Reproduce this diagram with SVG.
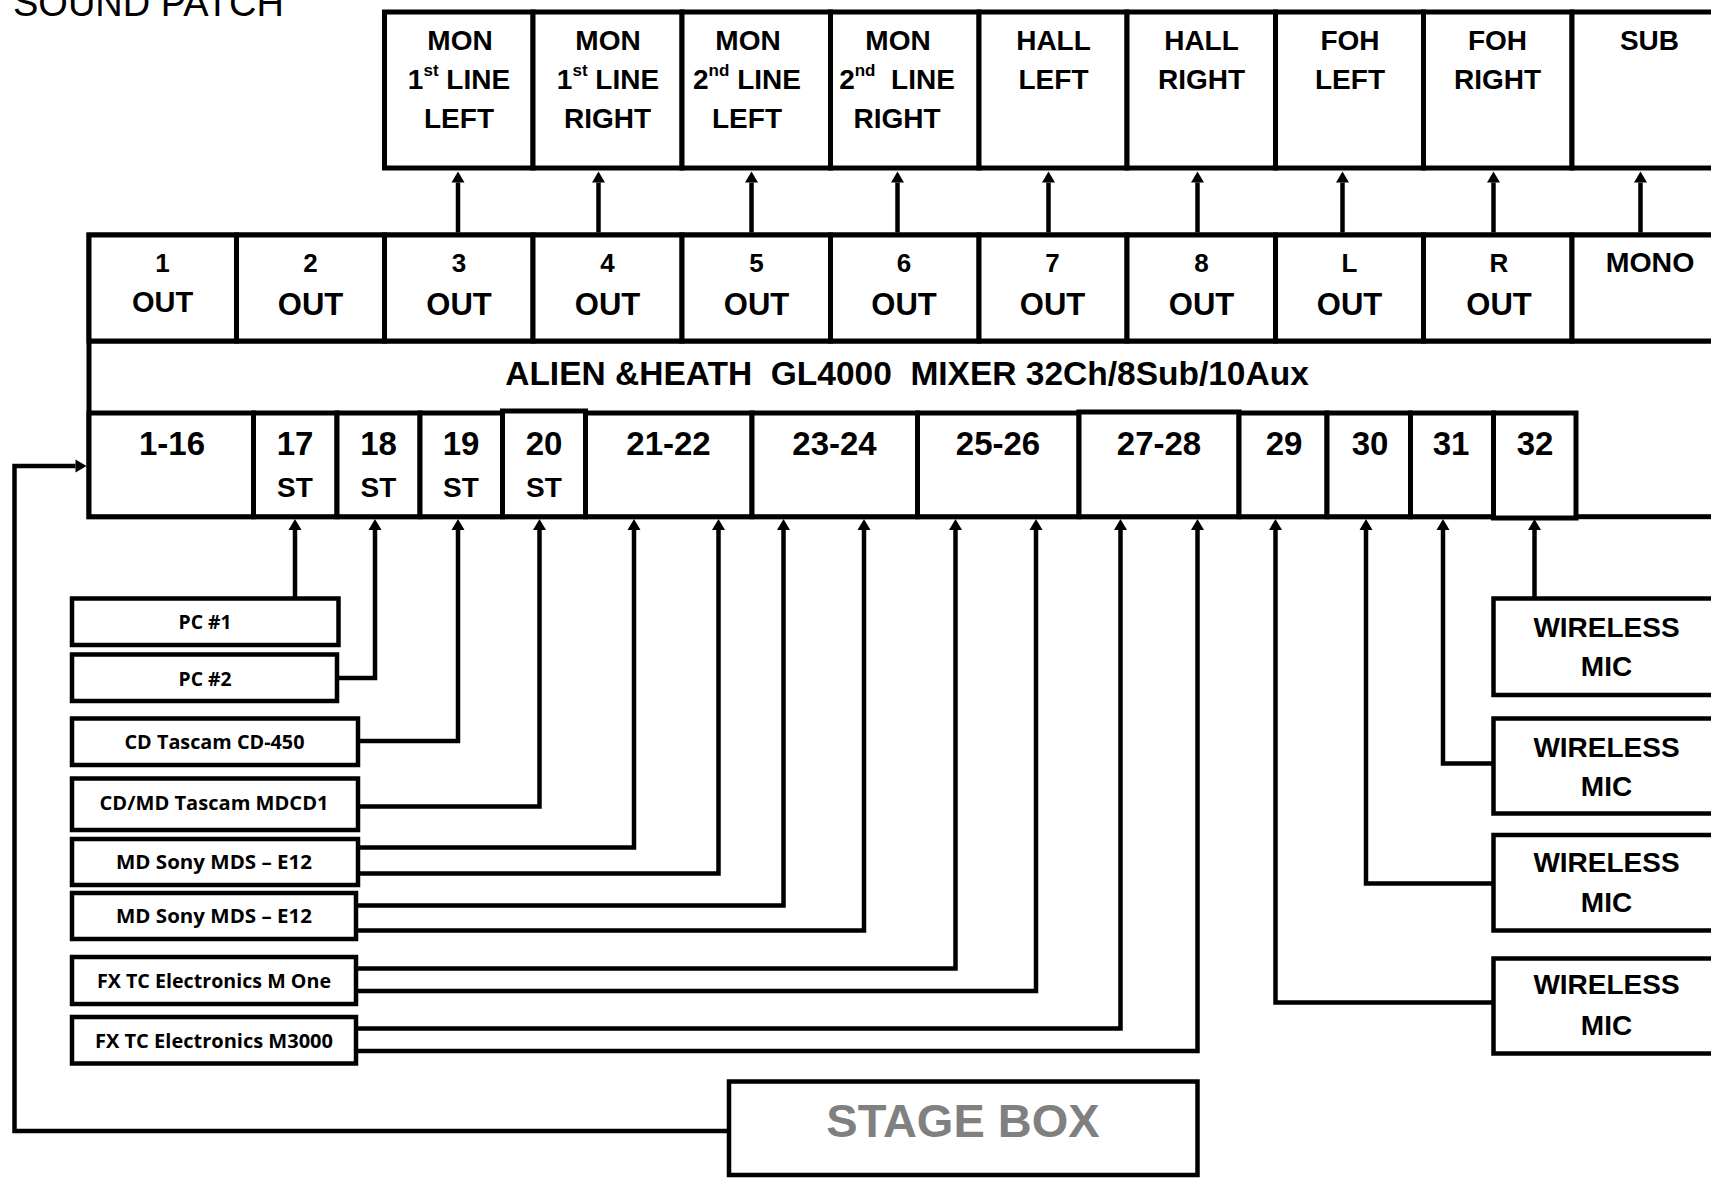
<svg xmlns="http://www.w3.org/2000/svg" width="1711" height="1179" viewBox="0 0 1711 1179">
<style>
  .box { fill: #fff; stroke: #000; stroke-width: 5; }
  .sbox { fill: #fff; stroke: #000; stroke-width: 4.5; }
  .t { font-family: "Liberation Sans", Arial, sans-serif; font-weight: 700; fill: #000; text-anchor: middle; }
  .tr { font-family: "Liberation Sans", Arial, sans-serif; font-weight: 400; fill: #000; }
  .top { font-size: 28px; }
  .num { font-size: 26px; }
  .out { font-size: 31px; }
  .inn { font-size: 33px; }
  .st { font-size: 28px; }
  .mic { font-size: 28px; }
  .src { font-family: "Open Sans", "Noto Sans", sans-serif; font-weight: 700; font-size: 19px; fill: #000; text-anchor: middle; }
  .sup { font-size: 17px; }
  .wire { fill: none; stroke: #000; stroke-width: 4.5; stroke-linejoin: miter; stroke-linecap: butt; }
</style>
<defs>
  <marker id="ah" viewBox="0 -6.5 11 13" refX="0" refY="0" markerWidth="11" markerHeight="13" markerUnits="userSpaceOnUse" orient="auto" overflow="visible">
    <path d="M0,-6.5 L11,0 L0,6.5 z" fill="#000"/>
  </marker>
</defs>
<rect x="0" y="0" width="1711" height="1179" fill="#fff"/>

<text class="tr" x="13" y="16" font-size="38">SOUND PATCH</text>

<!-- Destination boxes (top row) -->
<g id="dest-mon1l"><rect class="box" x="384.5" y="12" width="148.5" height="156"/>
  <text class="t top" x="460" y="50">MON</text>
  <text class="t top" x="459" y="89">1<tspan class="sup" dy="-13">st</tspan><tspan dy="13"> LINE</tspan></text>
  <text class="t top" x="459" y="128">LEFT</text></g>
<g id="dest-mon1r"><rect class="box" x="533" y="12" width="149" height="156"/>
  <text class="t top" x="608" y="50">MON</text>
  <text class="t top" x="608" y="89">1<tspan class="sup" dy="-13">st</tspan><tspan dy="13"> LINE</tspan></text>
  <text class="t top" x="607.5" y="128">RIGHT</text></g>
<g id="dest-mon2l"><rect class="box" x="682" y="12" width="148.5" height="156"/>
  <text class="t top" x="748" y="50">MON</text>
  <text class="t top" x="747" y="89">2<tspan class="sup" dy="-13">nd</tspan><tspan dy="13"> LINE</tspan></text>
  <text class="t top" x="747" y="128">LEFT</text></g>
<g id="dest-mon2r"><rect class="box" x="830.5" y="12" width="148.5" height="156"/>
  <text class="t top" x="898" y="50">MON</text>
  <text class="t top" x="897" y="89" xml:space="preserve">2<tspan class="sup" dy="-13">nd</tspan><tspan dy="13">  LINE</tspan></text>
  <text class="t top" x="897" y="128">RIGHT</text></g>
<g id="dest-halll"><rect class="box" x="979" y="12" width="148" height="156"/>
  <text class="t top" x="1053.5" y="50">HALL</text>
  <text class="t top" x="1053.5" y="89">LEFT</text></g>
<g id="dest-hallr"><rect class="box" x="1127" y="12" width="148.5" height="156"/>
  <text class="t top" x="1201.5" y="50">HALL</text>
  <text class="t top" x="1201.5" y="89">RIGHT</text></g>
<g id="dest-fohl"><rect class="box" x="1275.5" y="12" width="148" height="156"/>
  <text class="t top" x="1350" y="50">FOH</text>
  <text class="t top" x="1350" y="89">LEFT</text></g>
<g id="dest-fohr"><rect class="box" x="1423.5" y="12" width="148.5" height="156"/>
  <text class="t top" x="1497.5" y="50">FOH</text>
  <text class="t top" x="1497.5" y="89">RIGHT</text></g>
<g id="dest-sub"><rect class="box" x="1572" y="12" width="148.5" height="156"/>
  <text class="t top" x="1649.5" y="50">SUB</text></g>

<!-- Mixer -->
<g id="mixer">
  <rect class="box" x="89" y="235" width="1631" height="281.7"/>
  <line x1="89" y1="341" x2="1720" y2="341" stroke="#000" stroke-width="5"/>
  <text class="t" x="907" y="385" font-size="33.5" xml:space="preserve">ALIEN &amp;HEATH  GL4000  MIXER 32Ch/8Sub/10Aux</text>
</g>

<!-- Mixer outputs -->
<g id="out-1"><rect class="box" x="89" y="235" width="147.5" height="106"/>
  <text class="t num" x="162.5" y="272">1</text><text class="t" x="162.5" y="312" font-size="29">OUT</text></g>
<g id="out-2"><rect class="box" x="236.5" y="235" width="148" height="106"/>
  <text class="t num" x="310.5" y="272">2</text><text class="t out" x="310.5" y="315">OUT</text></g>
<g id="out-3"><rect class="box" x="384.5" y="235" width="148.5" height="106"/>
  <text class="t num" x="459" y="272">3</text><text class="t out" x="459" y="315">OUT</text></g>
<g id="out-4"><rect class="box" x="533" y="235" width="149" height="106"/>
  <text class="t num" x="607.5" y="272">4</text><text class="t out" x="607.5" y="315">OUT</text></g>
<g id="out-5"><rect class="box" x="682" y="235" width="148.5" height="106"/>
  <text class="t num" x="756.5" y="272">5</text><text class="t out" x="756.5" y="315">OUT</text></g>
<g id="out-6"><rect class="box" x="830.5" y="235" width="148.5" height="106"/>
  <text class="t num" x="904" y="272">6</text><text class="t out" x="904" y="315">OUT</text></g>
<g id="out-7"><rect class="box" x="979" y="235" width="148" height="106"/>
  <text class="t num" x="1052.5" y="272">7</text><text class="t out" x="1052.5" y="315">OUT</text></g>
<g id="out-8"><rect class="box" x="1127" y="235" width="148.5" height="106"/>
  <text class="t num" x="1201.5" y="272">8</text><text class="t out" x="1201.5" y="315">OUT</text></g>
<g id="out-l"><rect class="box" x="1275.5" y="235" width="148" height="106"/>
  <text class="t num" x="1349.5" y="272">L</text><text class="t out" x="1349.5" y="315">OUT</text></g>
<g id="out-r"><rect class="box" x="1423.5" y="235" width="148.5" height="106"/>
  <text class="t num" x="1499" y="272">R</text><text class="t out" x="1499" y="315">OUT</text></g>
<g id="out-mono"><rect class="box" x="1572" y="235" width="148.5" height="106"/>
  <text class="t" x="1650" y="272" font-size="28.5">MONO</text></g>

<!-- Mixer inputs -->
<g id="in-1-16"><rect class="box" x="89" y="413" width="164.5" height="103.7"/>
  <text class="t inn" x="172" y="455">1-16</text></g>
<g id="in-17"><rect class="box" x="253.5" y="413" width="83.5" height="103.7"/>
  <text class="t inn" x="295" y="455">17</text><text class="t st" x="295" y="497">ST</text></g>
<g id="in-18"><rect class="box" x="337" y="413" width="83" height="103.7"/>
  <text class="t inn" x="378.5" y="455">18</text><text class="t st" x="378.5" y="497">ST</text></g>
<g id="in-19"><rect class="box" x="420" y="413" width="82.5" height="103.7"/>
  <text class="t inn" x="461" y="455">19</text><text class="t st" x="461" y="497">ST</text></g>
<g id="in-20"><rect class="box" x="502.5" y="411" width="83" height="105.7"/>
  <text class="t inn" x="544" y="455">20</text><text class="t st" x="544" y="497">ST</text></g>
<g id="in-21-22"><rect class="box" x="585.5" y="413" width="166.5" height="103.7"/>
  <text class="t inn" x="668.5" y="455">21-22</text></g>
<g id="in-23-24"><rect class="box" x="752" y="413" width="165.5" height="103.7"/>
  <text class="t inn" x="834.5" y="455">23-24</text></g>
<g id="in-25-26"><rect class="box" x="917.5" y="413" width="161.5" height="103.7"/>
  <text class="t inn" x="998" y="455">25-26</text></g>
<g id="in-27-28"><rect class="box" x="1079" y="412" width="160" height="104.7"/>
  <text class="t inn" x="1159" y="455">27-28</text></g>
<g id="in-29"><rect class="box" x="1239" y="413" width="88" height="103.7"/>
  <text class="t inn" x="1284" y="455">29</text></g>
<g id="in-30"><rect class="box" x="1327" y="413" width="83.5" height="103.7"/>
  <text class="t inn" x="1370" y="455">30</text></g>
<g id="in-31"><rect class="box" x="1410.5" y="413" width="83" height="103.7"/>
  <text class="t inn" x="1451" y="455">31</text></g>
<g id="in-32"><rect class="box" x="1493.5" y="413" width="82.5" height="105"/>
  <text class="t inn" x="1535" y="455">32</text></g>

<!-- Sources (left) -->
<g id="src-pc1"><rect class="sbox" x="72" y="598.5" width="266.5" height="46.5"/>
  <text class="src" x="205" y="629" textLength="53" lengthAdjust="spacingAndGlyphs">PC #1</text></g>
<g id="src-pc2"><rect class="sbox" x="72" y="654.5" width="265" height="46.5"/>
  <text class="src" x="205" y="685.5" textLength="53" lengthAdjust="spacingAndGlyphs">PC #2</text></g>
<g id="src-cd450"><rect class="sbox" x="72" y="718.5" width="286" height="46.5"/>
  <text class="src" x="214.5" y="749" textLength="180" lengthAdjust="spacingAndGlyphs">CD Tascam CD-450</text></g>
<g id="src-mdcd1"><rect class="sbox" x="72" y="778.5" width="286" height="51.5"/>
  <text class="src" x="214" y="809.5" textLength="229" lengthAdjust="spacingAndGlyphs">CD/MD Tascam MDCD1</text></g>
<g id="src-mds1"><rect class="sbox" x="72" y="839" width="286" height="46"/>
  <text class="src" x="214" y="869" textLength="196" lengthAdjust="spacingAndGlyphs">MD Sony MDS – E12</text></g>
<g id="src-mds2"><rect class="sbox" x="72" y="893" width="284" height="46"/>
  <text class="src" x="214" y="923" textLength="196" lengthAdjust="spacingAndGlyphs">MD Sony MDS – E12</text></g>
<g id="src-mone"><rect class="sbox" x="72" y="957" width="284" height="47"/>
  <text class="src" x="214" y="988" textLength="234" lengthAdjust="spacingAndGlyphs">FX TC Electronics M One</text></g>
<g id="src-m3000"><rect class="sbox" x="72" y="1017" width="284" height="46.5"/>
  <text class="src" x="214" y="1047.5" textLength="238" lengthAdjust="spacingAndGlyphs">FX TC Electronics M3000</text></g>

<!-- Wireless mics (right) -->
<g id="mic-1"><rect class="sbox" x="1493.5" y="598.5" width="230" height="96.5"/>
  <text class="t mic" x="1606.5" y="636.5">WIRELESS</text><text class="t mic" x="1606.5" y="676">MIC</text></g>
<g id="mic-2"><rect class="sbox" x="1493.5" y="718.5" width="230" height="95"/>
  <text class="t mic" x="1606.5" y="756.5">WIRELESS</text><text class="t mic" x="1606.5" y="796">MIC</text></g>
<g id="mic-3"><rect class="sbox" x="1493.5" y="835" width="230" height="95.5"/>
  <text class="t mic" x="1606.5" y="871.5">WIRELESS</text><text class="t mic" x="1606.5" y="911.5">MIC</text></g>
<g id="mic-4"><rect class="sbox" x="1493.5" y="958.5" width="230" height="95"/>
  <text class="t mic" x="1606.5" y="993.5">WIRELESS</text><text class="t mic" x="1606.5" y="1035">MIC</text></g>

<!-- Stage box -->
<g id="stagebox"><rect class="sbox" x="729" y="1081.5" width="468.5" height="93.5"/>
  <text class="t" x="963" y="1137" font-size="47" fill="#808080" style="fill:#808080">STAGE BOX</text></g>

<!-- Connectors -->
<g id="connectors">
  <!-- outputs to destinations -->
  <path class="wire" d="M458,232.5 V182.5" marker-end="url(#ah)"/>
  <path class="wire" d="M598.5,232.5 V182.5" marker-end="url(#ah)"/>
  <path class="wire" d="M751.5,232.5 V182.5" marker-end="url(#ah)"/>
  <path class="wire" d="M897.5,232.5 V182.5" marker-end="url(#ah)"/>
  <path class="wire" d="M1048.5,232.5 V182.5" marker-end="url(#ah)"/>
  <path class="wire" d="M1197.5,232.5 V182.5" marker-end="url(#ah)"/>
  <path class="wire" d="M1342.5,232.5 V182.5" marker-end="url(#ah)"/>
  <path class="wire" d="M1493.5,232.5 V182.5" marker-end="url(#ah)"/>
  <path class="wire" d="M1640.5,232.5 V182.5" marker-end="url(#ah)"/>
  <!-- sources to inputs -->
  <path class="wire" d="M295,597 V530" marker-end="url(#ah)"/>
  <path class="wire" d="M338.5,678 H375 V530" marker-end="url(#ah)"/>
  <path class="wire" d="M358,741 H458 V530" marker-end="url(#ah)"/>
  <path class="wire" d="M358,806.5 H539.5 V530" marker-end="url(#ah)"/>
  <path class="wire" d="M358,847.5 H634 V530" marker-end="url(#ah)"/>
  <path class="wire" d="M358,873.5 H718.5 V530" marker-end="url(#ah)"/>
  <path class="wire" d="M356,905.5 H783.5 V530" marker-end="url(#ah)"/>
  <path class="wire" d="M356,930.5 H864 V530" marker-end="url(#ah)"/>
  <path class="wire" d="M356,968.5 H955.5 V530" marker-end="url(#ah)"/>
  <path class="wire" d="M356,991 H1036 V530" marker-end="url(#ah)"/>
  <path class="wire" d="M356,1028.5 H1120.5 V530" marker-end="url(#ah)"/>
  <path class="wire" d="M356,1051 H1197.5 V530" marker-end="url(#ah)"/>
  <!-- wireless mics to inputs -->
  <path class="wire" d="M1493.5,1002.5 H1275.5 V530" marker-end="url(#ah)"/>
  <path class="wire" d="M1493.5,883.5 H1366 V530" marker-end="url(#ah)"/>
  <path class="wire" d="M1493.5,763.5 H1443 V530" marker-end="url(#ah)"/>
  <path class="wire" d="M1534.5,597 V530" marker-end="url(#ah)"/>
  <!-- stage box to 1-16 -->
  <path class="wire" d="M729,1131 H14.5 V466 H75.5" marker-end="url(#ah)"/>
</g>
</svg>
